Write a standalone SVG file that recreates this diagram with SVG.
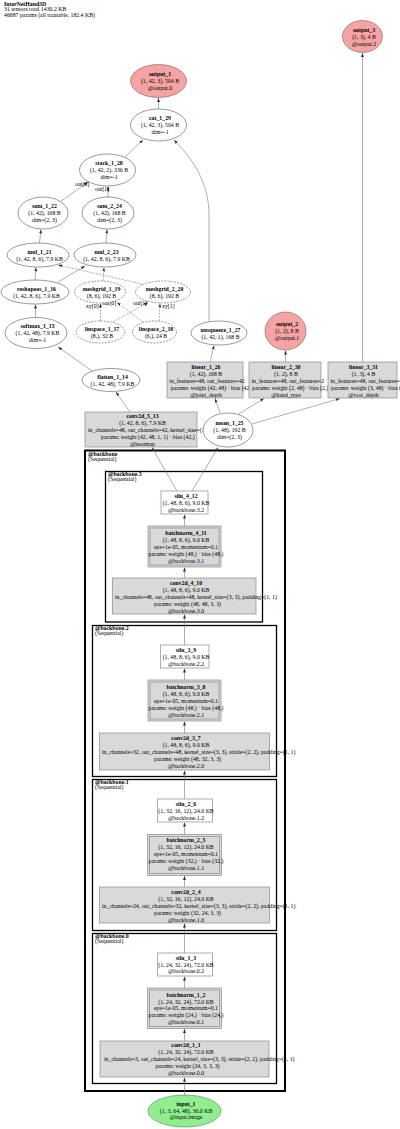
<svg xmlns="http://www.w3.org/2000/svg" width="400" height="1129" viewBox="0 0 400 1129">
<defs>
<style>
text{font-family:"Liberation Serif","Times New Roman",serif;font-size:5.8px;fill:#000}
.b{font-weight:bold}
.m{text-anchor:middle}
.e{fill:#fff;stroke:#555;stroke-width:0.6}
.d{fill:#fff;stroke:#555;stroke-width:0.6;stroke-dasharray:2,1.2}
.o{fill:#f5a3a3;stroke:#7a5c5c;stroke-width:0.6}
.g{fill:#90ee90;stroke:#5c7a5c;stroke-width:0.6}
.w{fill:#fff;stroke:#999;stroke-width:0.8}
.r{fill:#d9d9d9;stroke:#8c8c8c;stroke-width:0.7}
.c{fill:none;stroke:#000}
.edges path{fill:none;stroke:#777;stroke-width:0.6;marker-end:url(#ah)}
.edges path.ds{stroke-dasharray:2,1.2}
</style>
<marker id="ah" markerUnits="userSpaceOnUse" markerWidth="4" markerHeight="3" refX="4" refY="1.5" orient="auto"><path d="M0,0L4,1.5L0,3z" fill="#333"/></marker>
</defs>
<rect width="400" height="1129" fill="#fff"/>
<g id="header">
<text x="4" y="6" class="b">InterNetHand3D</text>
<text x="4" y="11.3">31 tensors total 1430.2 KB</text>
<text x="4" y="16.7">46687 params (all trainable, 182.4 KB)</text>
</g>
<g id="clusters">
<rect id="cluster_backbone" x="85" y="450.5" width="200" height="640.5" class="c" stroke-width="2"/>
<text x="88" y="455.5" class="b">@backbone</text>
<text x="88" y="460.5">(Sequential)</text>
<rect id="cluster_backbone3" x="105.5" y="471.5" width="157" height="150.5" class="c" stroke-width="1.3"/>
<text x="108" y="476" class="b">@backbone.3</text>
<text x="108" y="481">(Sequential)</text>
<rect id="cluster_backbone2" x="92.5" y="625.5" width="184" height="151" class="c" stroke-width="1.3"/>
<text x="95" y="630" class="b">@backbone.2</text>
<text x="95" y="635">(Sequential)</text>
<rect id="cluster_backbone1" x="92.5" y="779.5" width="184" height="151" class="c" stroke-width="1.3"/>
<text x="95" y="784" class="b">@backbone.1</text>
<text x="95" y="789">(Sequential)</text>
<rect id="cluster_backbone0" x="92.5" y="933.5" width="184" height="150" class="c" stroke-width="1.3"/>
<text x="95" y="938" class="b">@backbone.0</text>
<text x="95" y="943">(Sequential)</text>
</g>
<g class="edges" id="connectors">
<path d="M362.5,362L362.5,53"/>
<path d="M158.5,109L158.5,98"/>
<path d="M125,157L143,140"/>
<path d="M209,321L209,215C209,182 192,158 174,140"/>
<path d="M60,202L88,182"/>
<path d="M108,197L108,186.5"/>
<path d="M39.5,243L41,229.5"/>
<path d="M106,243L107,229.5"/>
<path d="M35,280L36,267.5"/>
<path d="M58,282L85,266"/>
<path class="ds" d="M142,284L58,265"/>
<path class="ds" d="M103,281L104,267.5"/>
<path d="M35.5,317.5L35.5,304.5"/>
<path d="M92,371L58,347"/>
<path class="ds" d="M100.5,321L100.5,303.5"/>
<path class="ds" d="M113,322L148,302.5"/>
<path class="ds" d="M143,322L117,302.5"/>
<path class="ds" d="M159,321L160,303.5"/>
<path d="M210,362L214,345.5"/>
<path d="M285.5,362L285.5,350.5"/>
<path d="M130,412L116,392"/>
<path d="M220,413L215,398.5"/>
<path d="M237,415L264,398.5"/>
<path d="M252,424L340,398.5"/>
<path d="M177,491L152,447.5"/>
<path d="M192,491L218,447.5"/>
<path d="M184.5,526L184.5,514.5"/>
<path d="M184.5,578L184.5,567.5"/>
<path d="M184.5,645L184.5,614.5"/>
<path d="M184.5,680L184.5,668.5"/>
<path d="M184.5,733L184.5,721.5"/>
<path d="M184.5,799L184.5,770.5"/>
<path d="M184.5,834.5L184.5,822.5"/>
<path d="M184.5,887L184.5,876"/>
<path d="M184.5,953L184.5,923.5"/>
<path d="M184.5,988L184.5,976.5"/>
<path d="M184.5,1041L184.5,1029"/>
<path d="M184.5,1095L184.5,1077.5"/>
</g>
<g id="edge_labels">
<text x="75" y="186">out[0]</text>
<text x="95" y="191">out[1]</text>
<text x="86" y="308">xy[0]</text>
<text x="102" y="305">out[0]</text>
<text x="133" y="305">out[1]</text>
<text x="162" y="308">xy[1]</text>
</g>
<g id="output_3"><ellipse cx="362.5" cy="36.5" rx="20" ry="16" class="o"/>
<text x="364" y="31.5" class="m b">output_3</text><text x="364" y="38.5" class="m">(1, 3), 4 B</text><text x="364" y="45.5" class="m">@output.2</text></g>
<g id="output_1"><ellipse cx="158.5" cy="81" rx="28" ry="16.5" class="o"/>
<text x="160" y="76" class="m b">output_1</text><text x="160" y="83" class="m">(1, 42, 3), 504 B</text><text x="160" y="90" class="m">@output.0</text></g>
<g id="cat_1_29"><ellipse cx="158.5" cy="125" rx="28" ry="16" class="e"/>
<text x="160" y="120" class="m b">cat_1_29</text><text x="160" y="127" class="m">(1, 42, 3), 504 B</text><text x="160" y="134" class="m">dim=-1</text></g>
<g id="stack_1_28"><ellipse cx="107.5" cy="170" rx="28" ry="16" class="e"/>
<text x="109" y="165" class="m b">stack_1_28</text><text x="109" y="172" class="m">(1, 42, 2), 336 B</text><text x="109" y="179" class="m">dim=-1</text></g>
<g id="sum_1_22"><ellipse cx="43" cy="213" rx="25" ry="16" class="e"/>
<text x="44.5" y="208" class="m b">sum_1_22</text><text x="44.5" y="215" class="m">(1, 42), 168 B</text><text x="44.5" y="222" class="m">dim=(2, 3)</text></g>
<g id="sum_2_24"><ellipse cx="108" cy="213" rx="26" ry="16" class="e"/>
<text x="109.5" y="208" class="m b">sum_2_24</text><text x="109.5" y="215" class="m">(1, 42), 168 B</text><text x="109.5" y="222" class="m">dim=(2, 3)</text></g>
<g id="mul_1_21"><ellipse cx="38" cy="255" rx="31" ry="12" class="e"/>
<text x="39.5" y="253.5" class="m b">mul_1_21</text><text x="39.5" y="260.5" class="m">(1, 42, 8, 6), 7.9 KB</text></g>
<g id="mul_2_23"><ellipse cx="105" cy="255" rx="31" ry="12" class="e"/>
<text x="106.5" y="253.5" class="m b">mul_2_23</text><text x="106.5" y="260.5" class="m">(1, 42, 8, 6), 7.9 KB</text></g>
<g id="reshapeas_1_16"><ellipse cx="35" cy="292" rx="34" ry="12" class="e"/>
<text x="36.5" y="290.5" class="m b">reshapeas_1_16</text><text x="36.5" y="297.5" class="m">(1, 42, 8, 6), 7.9 KB</text></g>
<g id="meshgrid_1_19"><ellipse cx="100" cy="292" rx="25.5" ry="11" class="d"/>
<text x="101.5" y="290.5" class="m b">meshgrid_1_19</text><text x="101.5" y="297.5" class="m">(8, 6), 192 B</text></g>
<g id="meshgrid_2_20"><ellipse cx="163" cy="292" rx="27.5" ry="11" class="d"/>
<text x="164.5" y="290.5" class="m b">meshgrid_2_20</text><text x="164.5" y="297.5" class="m">(8, 6), 192 B</text></g>
<g id="softmax_1_15"><ellipse cx="36" cy="333" rx="31" ry="15.5" class="e"/>
<text x="37.5" y="328" class="m b">softmax_1_15</text><text x="37.5" y="335" class="m">(1, 42, 48), 7.9 KB</text><text x="37.5" y="342" class="m">dim=-1</text></g>
<g id="linspace_1_17"><ellipse cx="100.5" cy="332" rx="24.5" ry="11" class="d"/>
<text x="102" y="330.5" class="m b">linspace_1_17</text><text x="102" y="337.5" class="m">(8,), 32 B</text></g>
<g id="linspace_2_18"><ellipse cx="154.5" cy="332" rx="22" ry="11" class="d"/>
<text x="156" y="330.5" class="m b">linspace_2_18</text><text x="156" y="337.5" class="m">(6,), 24 B</text></g>
<g id="unsqueeze_1_27"><ellipse cx="219" cy="333" rx="28" ry="12" class="e"/>
<text x="220.5" y="331.5" class="m b">unsqueeze_1_27</text><text x="220.5" y="338.5" class="m">(1, 42, 1), 168 B</text></g>
<g id="output_2"><ellipse cx="285.5" cy="331" rx="20.5" ry="19" class="o"/>
<text x="287" y="326" class="m b">output_2</text><text x="287" y="333" class="m">(1, 2), 8 B</text><text x="287" y="340" class="m">@output.1</text></g>
<g id="linear_1_26"><rect x="167" y="362" width="76" height="36" class="r"/>
<text x="206" y="368.5" class="m b">linear_1_26</text><text x="206" y="375.5" class="m">(1, 42), 168 B</text>
<text x="169.3" y="382.5">in_features=48, out_features=42</text><text x="170.7" y="389.5">params: weight (42, 48) · bias (42,)</text>
<text x="206" y="396.5" class="m">@joint_depth</text></g>
<g id="linear_2_30"><rect x="249" y="362" width="72" height="36" class="r"/>
<text x="286" y="368.5" class="m b">linear_2_30</text><text x="286" y="375.5" class="m">(1, 2), 8 B</text>
<text x="251.5" y="382.5">in_features=48, out_features=2</text><text x="252" y="389.5">params: weight (2, 48) · bias (2,)</text>
<text x="286" y="396.5" class="m">@hand_type</text></g>
<g id="linear_3_31"><rect x="328" y="362" width="69" height="36" class="r"/>
<text x="363.5" y="368.5" class="m b">linear_3_31</text><text x="363.5" y="375.5" class="m">(1, 3), 4 B</text>
<text x="330.5" y="382.5">in_features=48, out_features=3</text><text x="331" y="389.5">params: weight (3, 48) · bias (3,)</text>
<text x="363.5" y="396.5" class="m">@root_depth</text></g>
<g id="flatten_1_14"><ellipse cx="111" cy="380" rx="29" ry="11.5" class="e"/>
<text x="112.5" y="378.5" class="m b">flatten_1_14</text><text x="112.5" y="385.5" class="m">(1, 42, 48), 7.9 KB</text></g>
<g id="conv2d_5_13"><rect x="85" y="412" width="112" height="35" class="r"/>
<text x="142.5" y="418" class="m b">conv2d_5_13</text><text x="142.5" y="425" class="m">(1, 42, 8, 6), 7.9 KB</text>
<text x="88" y="432">in_channels=48, out_channels=42, kernel_size=(1, 1)</text>
<text x="101" y="439">params: weight (42, 48, 1, 1) · bias (42,)</text>
<text x="142.5" y="446" class="m">@heatmap</text></g>
<g id="mean_1_25"><ellipse cx="228" cy="430" rx="25" ry="17" class="e"/>
<text x="229.5" y="425" class="m b">mean_1_25</text><text x="229.5" y="432" class="m">(1, 48), 192 B</text><text x="229.5" y="439" class="m">dim=(2, 3)</text></g>
<g id="silu_4_12"><rect x="161" y="491" width="47" height="23" class="w"/>
<text x="186" y="497.5" class="m b">silu_4_12</text><text x="186" y="504.5" class="m">(1, 48, 8, 6), 9.0 KB</text><text x="186" y="511.5" class="m">@backbone.3.2</text></g>
<g id="batchnorm_4_11"><rect x="148" y="526" width="73" height="41" class="r"/><rect x="150" y="528" width="69" height="37" class="r"/>
<text x="186" y="534.5" class="m b">batchnorm_4_11</text><text x="186" y="541.5" class="m">(1, 48, 8, 6), 9.0 KB</text><text x="186" y="548.5" class="m">eps=1e-05, momentum=0.1</text><text x="186" y="555.5" class="m">params: weight (48,) · bias (48,)</text><text x="186" y="562.5" class="m">@backbone.3.1</text></g>
<g id="conv2d_4_10"><rect x="112.5" y="578" width="143.5" height="36" class="r"/>
<text x="186" y="584.7" class="m b">conv2d_4_10</text><text x="186" y="591.7" class="m">(1, 48, 8, 6), 9.0 KB</text>
<text x="115" y="598.7">in_channels=48, out_channels=48, kernel_size=(3, 3), padding=(1, 1)</text>
<text x="187.5" y="605.7" class="m">params: weight (48, 48, 3, 3)</text><text x="186" y="612.7" class="m">@backbone.3.0</text></g>
<g id="silu_3_9"><rect x="160.5" y="645" width="48.5" height="23" class="w"/>
<text x="186" y="651.5" class="m b">silu_3_9</text><text x="186" y="658.5" class="m">(1, 48, 8, 6), 9.0 KB</text><text x="186" y="665.5" class="m">@backbone.2.2</text></g>
<g id="batchnorm_3_8"><rect x="148" y="680" width="73" height="41" class="r"/><rect x="150" y="682" width="69" height="37" class="r"/>
<text x="186" y="688.5" class="m b">batchnorm_3_8</text><text x="186" y="695.5" class="m">(1, 48, 8, 6), 9.0 KB</text><text x="186" y="702.5" class="m">eps=1e-05, momentum=0.1</text><text x="186" y="709.5" class="m">params: weight (48,) · bias (48,)</text><text x="186" y="716.5" class="m">@backbone.2.1</text></g>
<g id="conv2d_3_7"><rect x="99.5" y="733" width="170" height="37" class="r"/>
<text x="186" y="739.5" class="m b">conv2d_3_7</text><text x="186" y="746.5" class="m">(1, 48, 8, 6), 9.0 KB</text>
<text x="102" y="753.5">in_channels=32, out_channels=48, kernel_size=(3, 3), stride=(2, 2), padding=(1, 1)</text>
<text x="187.5" y="760.5" class="m">params: weight (48, 32, 3, 3)</text><text x="186" y="767.5" class="m">@backbone.2.0</text></g>
<g id="silu_2_6"><rect x="157.5" y="799" width="55" height="23" class="w"/>
<text x="186" y="805.5" class="m b">silu_2_6</text><text x="186" y="812.5" class="m">(1, 32, 16, 12), 24.0 KB</text><text x="186" y="819.5" class="m">@backbone.1.2</text></g>
<g id="batchnorm_2_5"><rect x="147.5" y="834.5" width="74" height="41" class="r"/><rect x="149.5" y="836.5" width="70" height="37" class="r"/>
<text x="186" y="842" class="m b">batchnorm_2_5</text><text x="186" y="849" class="m">(1, 32, 16, 12), 24.0 KB</text><text x="186" y="856" class="m">eps=1e-05, momentum=0.1</text><text x="186" y="863" class="m">params: weight (32,) · bias (32,)</text><text x="186" y="870" class="m">@backbone.1.1</text></g>
<g id="conv2d_2_4"><rect x="99.5" y="887" width="170" height="36" class="r"/>
<text x="186" y="893.5" class="m b">conv2d_2_4</text><text x="186" y="900.5" class="m">(1, 32, 16, 12), 24.0 KB</text>
<text x="102" y="907.5">in_channels=24, out_channels=32, kernel_size=(3, 3), stride=(2, 2), padding=(1, 1)</text>
<text x="187.5" y="914.5" class="m">params: weight (32, 24, 3, 3)</text><text x="186" y="921.5" class="m">@backbone.1.0</text></g>
<g id="silu_1_3"><rect x="157.5" y="953" width="55" height="23" class="w"/>
<text x="186" y="959.5" class="m b">silu_1_3</text><text x="186" y="966.5" class="m">(1, 24, 32, 24), 72.0 KB</text><text x="186" y="973" class="m">@backbone.0.2</text></g>
<g id="batchnorm_1_2"><rect x="147.5" y="988" width="74" height="40.5" class="r"/><rect x="149.5" y="990" width="70" height="36.5" class="r"/>
<text x="186" y="997" class="m b">batchnorm_1_2</text><text x="186" y="1003.7" class="m">(1, 24, 32, 24), 72.0 KB</text><text x="186" y="1010" class="m">eps=1e-05, momentum=0.1</text><text x="186" y="1017" class="m">params: weight (24,) · bias (24,)</text><text x="186" y="1024" class="m">@backbone.0.1</text></g>
<g id="conv2d_1_1"><rect x="100" y="1041" width="169" height="36" class="r"/>
<text x="186" y="1047" class="m b">conv2d_1_1</text><text x="186" y="1054" class="m">(1, 24, 32, 24), 72.0 KB</text>
<text x="104" y="1061">in_channels=3, out_channels=24, kernel_size=(3, 3), stride=(2, 2), padding=(1, 1)</text>
<text x="187.5" y="1068" class="m">params: weight (24, 3, 3, 3)</text><text x="186" y="1075" class="m">@backbone.0.0</text></g>
<g id="input_1"><ellipse cx="184.5" cy="1111" rx="36.5" ry="16" class="g"/>
<text x="186" y="1106" class="m b">input_1</text><text x="186" y="1112.7" class="m">(1, 3, 64, 48), 36.0 KB</text><text x="186" y="1119.3" class="m">@input.image</text></g>
</svg>
